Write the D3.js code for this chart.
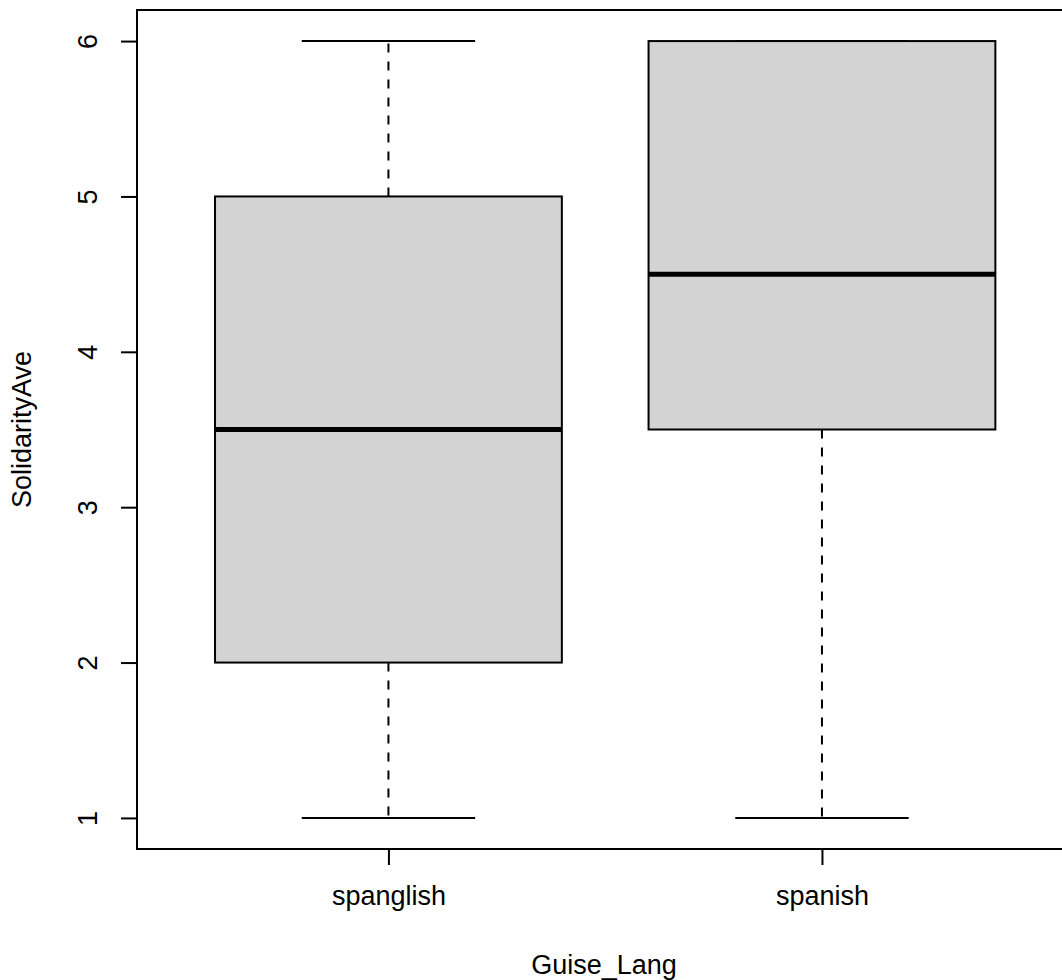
<!DOCTYPE html>
<html>
<head>
<meta charset="utf-8">
<script src="https://cdn.jsdelivr.net/npm/d3@7"></script>
<style>
  html, body { margin: 0; padding: 0; background: #fff; }
  svg { display: block; }
  text { font-family: "Liberation Sans", Arial, Helvetica, sans-serif; fill: #000; }
</style>
</head>
<body>
<svg id="chart" width="1062" height="980"></svg>
<script>
// Five-number summaries per group
const categories = ["spanglish", "spanish"];
const mins    = [1, 1];
const q1s     = [2, 3.5];
const medians = [3.5, 4.5];
const q3s     = [5, 6];
const maxs    = [6, 6];
const yTicks  = [1, 2, 3, 4, 5, 6];
const xTitle  = "Guise_Lang";
const yTitle  = "SolidarityAve";

const svg = d3.select("#chart");
const W = 1062, H = 980;
const FS = 27;
svg.append("rect").attr("width", W).attr("height", H).attr("fill", "#fff");

// Plot region: group positions 1..n with 4% padding either side
const x = d3.scaleLinear().domain([0.42, 2.58]).range([137, 1073.4]);
const y = d3.scaleLinear().domain([0.8, 6.2]).range([849, 10]);

const boxW = 0.8, capW = 0.4;
const data = categories.map((c, i) => ({
  cat: c, pos: i + 1,
  min: mins[i], q1: q1s[i], med: medians[i], q3: q3s[i], max: maxs[i]
}));

const g = svg.append("g");

// Dashed whiskers with caps
data.forEach(d => {
  g.append("line")
    .attr("x1", x(d.pos)).attr("x2", x(d.pos))
    .attr("y1", y(d.q3)).attr("y2", y(d.max))
    .attr("stroke", "#000").attr("stroke-width", 2).attr("stroke-dasharray", "9,9");
  g.append("line")
    .attr("x1", x(d.pos)).attr("x2", x(d.pos))
    .attr("y1", y(d.q1)).attr("y2", y(d.min))
    .attr("stroke", "#000").attr("stroke-width", 2).attr("stroke-dasharray", "9,9");
  [d.min, d.max].forEach(v => {
    g.append("line")
      .attr("x1", x(d.pos - capW / 2)).attr("x2", x(d.pos + capW / 2))
      .attr("y1", y(v)).attr("y2", y(v))
      .attr("stroke", "#000").attr("stroke-width", 2);
  });
});

// Boxes
g.selectAll("rect.box").data(data).enter().append("rect")
  .attr("class", "box")
  .attr("x", d => x(d.pos - boxW / 2))
  .attr("width", d => x(d.pos + boxW / 2) - x(d.pos - boxW / 2))
  .attr("y", d => y(d.q3))
  .attr("height", d => y(d.q1) - y(d.q3))
  .attr("fill", "#d3d3d3").attr("stroke", "#000").attr("stroke-width", 2);

// Medians
g.selectAll("line.median").data(data).enter().append("line")
  .attr("class", "median")
  .attr("x1", d => x(d.pos - boxW / 2)).attr("x2", d => x(d.pos + boxW / 2))
  .attr("y1", d => y(d.med)).attr("y2", d => y(d.med))
  .attr("stroke", "#000").attr("stroke-width", 5);

// Frame
svg.append("rect")
  .attr("x", x(0.42)).attr("y", y(6.2))
  .attr("width", x(2.58) - x(0.42)).attr("height", y(0.8) - y(6.2))
  .attr("fill", "none").attr("stroke", "#000").attr("stroke-width", 2);

// Y axis
const yAxis = svg.append("g")
  .attr("transform", `translate(${x(0.42)},0)`)
  .call(d3.axisLeft(y).tickValues(yTicks).tickSize(16).tickFormat(d3.format("d")));
yAxis.select(".domain").remove();
yAxis.selectAll(".tick line").attr("stroke", "#000").attr("stroke-width", 2);
yAxis.selectAll(".tick text")
  .attr("x", null).attr("dy", null)
  .attr("font-size", FS)
  .attr("text-anchor", "middle")
  .attr("transform", "translate(-40,0) rotate(-90)");

// X axis
const xAxis = svg.append("g")
  .attr("transform", `translate(0,${y(0.8)})`)
  .call(d3.axisBottom(x).tickValues(data.map(d => d.pos)).tickSize(16)
    .tickFormat((d, i) => categories[i]));
xAxis.select(".domain").remove();
xAxis.selectAll(".tick line").attr("stroke", "#000").attr("stroke-width", 2);
xAxis.selectAll(".tick text")
  .attr("y", 56).attr("dy", null)
  .attr("font-size", FS);

// Axis titles
svg.append("text")
  .attr("x", 604)
  .attr("y", 974)
  .attr("text-anchor", "middle")
  .attr("font-size", FS)
  .text(xTitle);

svg.append("text")
  .attr("transform", `translate(31,${(y(0.8) + y(6.2)) / 2}) rotate(-90)`)
  .attr("text-anchor", "middle")
  .attr("font-size", FS)
  .text(yTitle);
</script>
</body>
</html>
